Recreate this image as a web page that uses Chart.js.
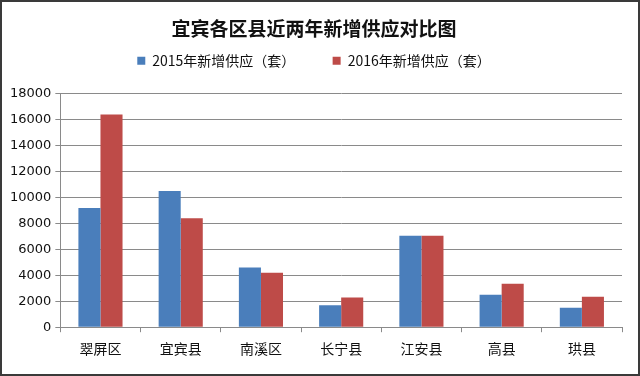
<!DOCTYPE html>
<html>
<head>
<meta charset="utf-8">
<style>
  html, body { margin: 0; padding: 0; background: #fff; }
  canvas { display: block; }
</style>
<script src="https://cdn.jsdelivr.net/npm/chart.js@4/dist/chart.umd.min.js"></script>
</head>
<body>
<canvas id="c" width="640" height="376"></canvas>
<script>
// categories and series (高县/珙县 2015 are partly hidden by a watermark, estimated)
var counties = ["翠屏区", "宜宾县", "南溪区", "长宁县", "江安县", "高县", "珙县"];
var supply2015 = [9200, 10500, 4600, 1700, 7050, 2500, 1500];
var supply2016 = [16400, 8400, 4200, 2300, 7050, 3350, 2350];
var yTicks = [0, 2000, 4000, 6000, 8000, 10000, 12000, 14000, 16000, 18000];

var cjk = '"Noto Sans CJK SC", "Noto Sans", sans-serif';

var frame = {
  id: 'frame',
  beforeLayout: function (chart) {
    // leave some room under the legend
    var lg = chart.legend;
    if (lg && !lg._padded) {
      var fit = lg.fit;
      lg.fit = function () {
        fit.apply(this, arguments);
        this.height += 16;
      };
      lg._padded = true;
    }
  },
  beforeDraw: function (chart) {
    var c = chart.ctx;
    c.save();
    c.fillStyle = '#fff';
    c.fillRect(0, 0, chart.width, chart.height);
    c.restore();
  },
  afterDraw: function (chart) {
    var c = chart.ctx;
    c.save();
    c.strokeStyle = '#3a3a3a';
    c.lineWidth = 2;
    c.strokeRect(1, 1, chart.width - 2, chart.height - 2);
    c.restore();
  }
};

var ctx = document.getElementById("c");
var myChart = new Chart(ctx, {
  type: 'bar',
  data: {
    labels: counties,
    datasets: [
      {
        label: "2015年新增供应（套）",
        backgroundColor: "#4a7ebb",
        data: supply2015
      }, {
        label: "2016年新增供应（套）",
        backgroundColor: "#be4b48",
        data: supply2016
      }
    ]
  },
  options: {
    responsive: false,
    animation: false,
    layout: { padding: { left: 6, right: 18, top: 17, bottom: 11 } },
    datasets: {
      bar: { categoryPercentage: 0.55, barPercentage: 1.0 }
    },
    plugins: {
      title: {
        display: true,
        text: '宜宾各区县近两年新增供应对比图',
        color: '#111',
        font: { family: cjk, size: 19, weight: 'bold' },
        padding: { top: 0, bottom: 4 }
      },
      legend: {
        display: true,
        labels: {
          boxWidth: 8,
          boxHeight: 8,
          color: '#111',
          padding: 10,
          font: { family: cjk, size: 14 },
          generateLabels: function (chart) {
            var items = Chart.defaults.plugins.legend.labels.generateLabels(chart);
            // wider gap between the two entries, like the original
            items[0].text = items[0].text + '\u3000\u3000  ';
            return items;
          }
        }
      },
      tooltip: { enabled: false }
    },
    scales: {
      x: {
        grid: {
          display: true,
          offset: true,
          drawOnChartArea: false,
          drawTicks: true,
          tickLength: 5,
          color: '#8a8a8a'
        },
        border: { display: true, color: '#8a8a8a', width: 1 },
        ticks: {
          color: '#111',
          padding: 8,
          font: { family: cjk, size: 14 }
        }
      },
      y: {
        min: 0,
        max: 18000,
        afterBuildTicks: function (axis) {
          axis.ticks = yTicks.map(function (v) { return { value: v }; });
        },
        grid: {
          color: '#8a8a8a',
          lineWidth: 1,
          drawTicks: true,
          tickLength: 5
        },
        border: { display: true, color: '#8a8a8a', width: 1 },
        ticks: {
          color: '#111',
          padding: 4,
          font: { family: 'Verdana, "DejaVu Sans", sans-serif', size: 13 },
          callback: function (v) { return String(v); }
        }
      }
    }
  },
  plugins: [frame]
});
</script>
</body>
</html>
